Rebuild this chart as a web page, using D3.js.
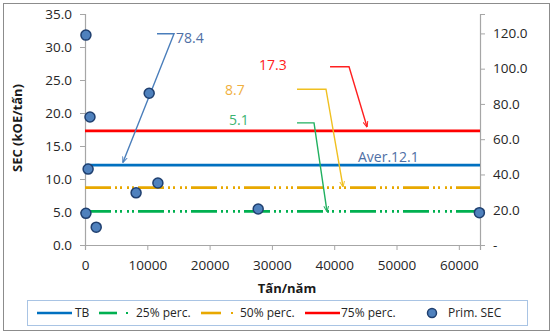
<!DOCTYPE html>
<html>
<head>
<meta charset="utf-8">
<script src="https://cdn.jsdelivr.net/npm/d3@7"></script>
<style>
  html, body { margin: 0; padding: 0; background: #fff; }
  svg { display: block; font-family: "Open Sans", "Liberation Sans", sans-serif; }
</style>
</head>
<body>
<svg id="chart" width="554" height="335"></svg>
<script>
// Specific energy consumption per plant vs. annual output
const plantOutput = [150, 800, 500, 150, 1800, 8200, 10300, 11700, 27800, 63300]; // tấn/năm
const plantSEC    = [31.8, 19.4, 11.5, 4.8, 2.7, 7.9, 23.0, 9.4, 5.45, 4.9];     // kOE/tấn

// Benchmark levels
const refNames  = ["TB", "25% perc.", "50% perc.", "75% perc."];
const refValues = [12.1, 5.1, 8.7, 17.3];
const refColors = ["#0070C0", "#00B050", "#E8A800", "#FF0000"];

// Axis ticks
const xTicks      = [0, 10000, 20000, 30000, 40000, 50000, 60000];
const yTicks      = [0, 5, 10, 15, 20, 25, 30, 35];
const yRightTicks = [0, 20, 40, 60, 80, 100, 120];

const svg = d3.select("#chart");
const dashLDD = "26,4,2,3,2,5,2,3,2,4";

// Chart frame
svg.append("rect").attr("x", 3.5).attr("y", 3.5).attr("width", 546).attr("height", 327)
  .attr("fill", "#fff").attr("stroke", "#8c8c8c").attr("stroke-width", 1);

const x = d3.scaleLinear().domain([0, 63400]).range([85, 480]);
const y = d3.scaleLinear().domain([0, 35]).range([245, 14]);
const y2 = d3.scaleLinear().domain([0, 131]).range([245, 14]);

const axisColor = "#a6a6a6";
const fmt1 = d3.format(".1f");

// Left axis
const gL = svg.append("g").attr("transform", "translate(85,0)")
  .call(d3.axisLeft(y).tickValues(yTicks).tickFormat(fmt1).tickSize(5).tickPadding(8));
// Right axis
const gR = svg.append("g").attr("transform", "translate(480,0)")
  .call(d3.axisRight(y2).tickValues(yRightTicks).tickFormat(d => d === 0 ? "-" : fmt1(d)).tickSize(5).tickPadding(12));
// Bottom axis
const gB = svg.append("g").attr("transform", "translate(0,245)")
  .call(d3.axisBottom(x).tickValues(xTicks).tickFormat(d3.format("d")).tickSize(5).tickPadding(10));

[gL, gR, gB].forEach(g => {
  g.select(".domain").attr("stroke", axisColor).attr("stroke-width", 1.2);
  g.selectAll(".tick line").attr("stroke", axisColor);
  g.selectAll(".tick text").attr("fill", "#262626").style("font-size", "13.5px").style("font-family", "\"Open Sans\", sans-serif");
});
gR.selectAll(".tick text").attr("dx", -4);

// Axis titles
svg.append("text").attr("transform", "translate(22,128) rotate(-90)")
  .attr("text-anchor", "middle").style("font-size", "13px").style("font-weight", "bold")
  .attr("fill", "#1a1a1a").text("SEC (kOE/tấn)");
svg.append("text").attr("x", 287).attr("y", 293).attr("text-anchor", "middle")
  .style("font-size", "13px").style("font-weight", "bold").attr("fill", "#1a1a1a").text("Tấn/năm");

// Benchmark lines
const refDash = [null, dashLDD, dashLDD, null];
const refWidth = [2.6, 2.6, 2.6, 2.8];
refValues.forEach((v, i) => {
  svg.append("line").attr("x1", x(0)).attr("x2", x(63400)).attr("y1", y(v)).attr("y2", y(v))
    .attr("stroke", refColors[i]).attr("stroke-width", refWidth[i])
    .attr("stroke-dasharray", refDash[i]);
});

// Arrowhead markers
const defs = svg.append("defs");
function marker(id, color) {
  defs.append("marker").attr("id", id).attr("viewBox", "0 -5 10 10")
    .attr("refX", 9).attr("refY", 0).attr("markerWidth", 6).attr("markerHeight", 6)
    .attr("markerUnits", "userSpaceOnUse").attr("orient", "auto")
    .append("path").attr("d", "M0,-4L10,0L0,4").attr("fill", "none").attr("stroke", color).attr("stroke-width", 1.6);
}
marker("arB", "#4A7EBB");
marker("arR", "#FF2020");
marker("arY", "#F0C020");
marker("arG", "#20B060");

// Callouts: label, elbow line and arrow down to a benchmark line (data units)
const callouts = [
  { text: "78.4", color: "#4F6FA5", line: "#4A7EBB", m: "arB", lx: 14600, ly: 31.4,
    pts: [[11560, 32.0], [14290, 32.0], [6100, refValues[0]]], off: 3 },
  { text: "17.3", color: "#FF2020", line: "#FF2020", m: "arR", lx: 27930, ly: 27.3,
    pts: [[39330, 27.0], [42380, 27.0], [45260, refValues[3]]], off: 4 },
  { text: "8.7", color: "#F0B040", line: "#F0C020", m: "arY", lx: 22470, ly: 23.5,
    pts: [[34030, 23.6], [38680, 23.6], [41410, refValues[2]]], off: 1 },
  { text: "5.1", color: "#3CB371", line: "#20B060", m: "arG", lx: 23110, ly: 18.9,
    pts: [[34030, 18.5], [36760, 18.5], [38840, refValues[1]]], off: 0 }
];
callouts.forEach(c => {
  const p = c.pts.map(d => [x(d[0]), y(d[1])]);
  p[2][1] -= c.off;
  svg.append("path").attr("d", d3.line()(p)).attr("fill", "none")
    .attr("stroke", c.line).attr("stroke-width", 1.4).attr("marker-end", `url(#${c.m})`);
  svg.append("text").attr("x", x(c.lx)).attr("y", y(c.ly)).attr("dy", "0.35em")
    .style("font-size", "14px").attr("fill", c.color).text(c.text);
});
svg.append("text").attr("x", x(43820)).attr("y", y(13.3)).attr("dy", "0.35em")
  .style("font-size", "14px").attr("fill", "#4F6FA5").text("Aver." + refValues[0]);

// Plant points
svg.append("g").selectAll("circle").data(plantOutput.map((d, i) => [d, plantSEC[i]]))
  .join("circle").attr("cx", d => x(d[0])).attr("cy", d => y(d[1])).attr("r", 5)
  .attr("fill", "#4F81BD").attr("stroke", "#1F3F6F").attr("stroke-width", 1.5);

// Legend
const lg = svg.append("g");
lg.append("rect").attr("x", 27.5).attr("y", 300.5).attr("width", 500).attr("height", 25)
  .attr("fill", "#fff").attr("stroke", "#A9C4E4").attr("stroke-width", 1);
const ly = 313;
const legendItems = [
  { name: refNames[0], color: refColors[0], type: "solid", x0: 37, x1: 72, tx: 75 },
  { name: refNames[1], color: refColors[1], type: "dash", x0: 99, x1: 117, dot: 127, tx: 136 },
  { name: refNames[2], color: refColors[2], type: "dash", x0: 201, x1: 221, dot: 232, tx: 240 },
  { name: refNames[3], color: refColors[3], type: "solid", x0: 305, x1: 340, tx: 341 },
  { name: "Prim. SEC", type: "point", cx: 432, tx: 448 }
];
legendItems.forEach(it => {
  if (it.type === "point") {
    lg.append("circle").attr("cx", it.cx).attr("cy", ly).attr("r", 4.5)
      .attr("fill", "#4F81BD").attr("stroke", "#1F3F6F").attr("stroke-width", 1.5);
  } else {
    lg.append("line").attr("x1", it.x0).attr("x2", it.x1).attr("y1", ly).attr("y2", ly)
      .attr("stroke", it.color).attr("stroke-width", 2.6);
    if (it.dot) lg.append("rect").attr("x", it.dot - 1).attr("y", ly - 1).attr("width", 2).attr("height", 2).attr("fill", it.color);
  }
  lg.append("text").attr("x", it.tx).attr("y", ly).attr("dy", "0.35em")
    .style("font-size", "12px").attr("fill", "#262626").text(it.name);
});
</script>
</body>
</html>
